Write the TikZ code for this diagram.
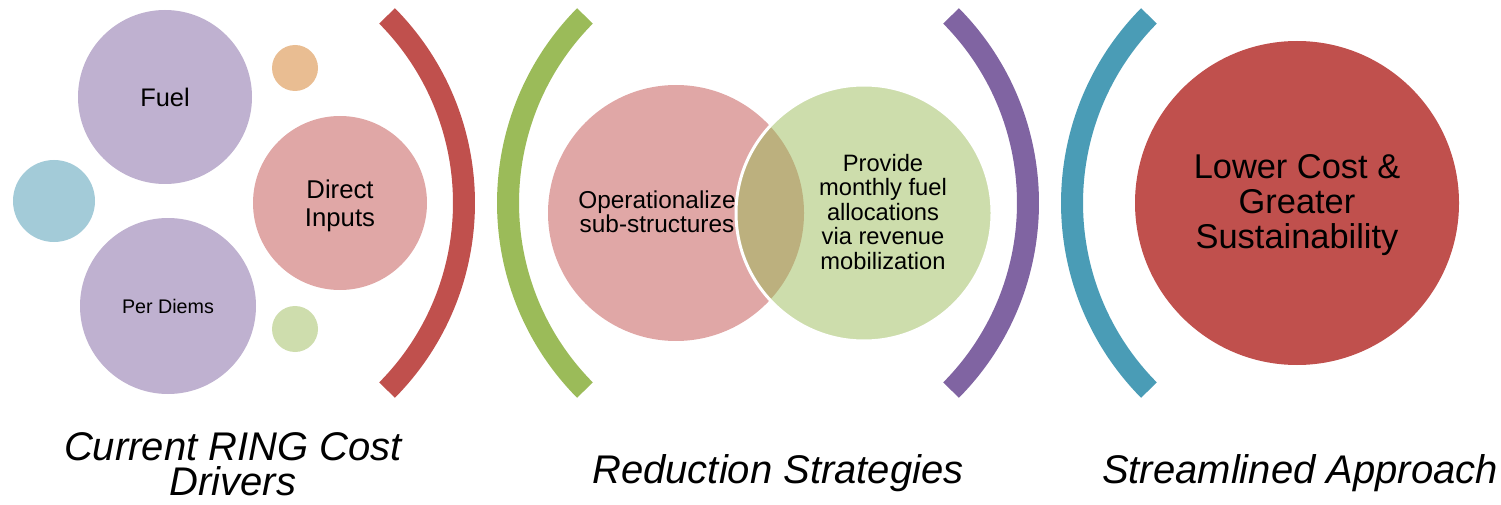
\documentclass[tikz,border=0pt]{standalone}
\usepackage{fontspec}
\setmainfont{Liberation Sans}
\definecolor{lav}{HTML}{BFB1D0}
\definecolor{pinkc}{HTML}{E0A7A6}
\definecolor{bluec}{HTML}{A3CBD8}
\definecolor{orangec}{HTML}{E9BD92}
\definecolor{greenc}{HTML}{CEDDAD}
\definecolor{arcred}{HTML}{C0504D}
\definecolor{arcgreen}{HTML}{9BBB59}
\definecolor{arcpurple}{HTML}{8064A2}
\definecolor{arcblue}{HTML}{4A9CB6}
\definecolor{lensc}{HTML}{BCB07E}
\definecolor{vgreen}{HTML}{CDDDAC}
\tikzset{
  bubble/.style={circle, inner sep=0pt, align=center, text=black},
  bracket/.style={line width=22pt, line cap=butt},
  caption/.style={font=\fontsize{40}{35}\selectfont\itshape, align=center, inner sep=0pt},
  inlabel/.style={align=center, inner sep=0pt, text=black, anchor=base}
}
\begin{document}
\begin{tikzpicture}[x=1pt,y=-1pt]
\useasboundingbox (0,0) rectangle (1501,505);
% --- Current RING cost drivers
\node[bubble, fill=lav, minimum size=174pt, font=\fontsize{25.4}{28}\selectfont] (fuel) at (165,97) {Fuel};
\node[bubble, fill=lav, minimum size=176pt, font=\fontsize{19.7}{22}\selectfont] (perdiems) at (168,306) {Per Diems};
\node[bubble, fill=bluec, minimum size=82pt] (bluedot) at (54,201) {};
\node[bubble, fill=orangec, minimum size=46pt] (orangedot) at (295,68) {};
\node[bubble, fill=greenc, minimum size=46pt] (greendot) at (295,329) {};
\node[bubble, fill=pinkc, minimum size=174pt] (direct) at (340,203) {};
\node[inlabel, font=\fontsize{25.7}{27.4}\selectfont] (directtext) at (340,226) {Direct\\Inputs};
% --- brackets
\coordinate (c1) at (198,203);
\coordinate (c2) at (774,203);
\coordinate (c3) at (762,203);
\coordinate (c4) at (1338,203);
\draw[bracket, arcred] (c1) ++(-44.7:266) arc[start angle=-44.7, end angle=44.7, radius=266];
\draw[bracket, arcgreen] (c2) ++(135.3:266) arc[start angle=135.3, end angle=224.7, radius=266];
\draw[bracket, arcpurple] (c3) ++(-44.7:266) arc[start angle=-44.7, end angle=44.7, radius=266];
\draw[bracket, arcblue] (c4) ++(135.3:266) arc[start angle=135.3, end angle=224.7, radius=266];
% --- Venn
\node[bubble, fill=pinkc, minimum size=256pt] (ops) at (676,213) {};
\node[bubble, fill=vgreen, minimum size=256pt] (prov) at (864,213) {};
\begin{scope}
  \clip (676,213) circle[radius=128];
  \fill[lensc] (864,213) circle[radius=128];
\end{scope}
\node[bubble, draw=white, line width=3pt, minimum size=256pt] (provrim) at (864,213) {};
\node[inlabel, font=\fontsize{24.4}{24}\selectfont] (opstext) at (657,232) {Operationalize\\sub-structures};
\node[inlabel, font=\fontsize{23.7}{24.5}\selectfont] (provtext) at (883,269) {Provide\\monthly fuel\\allocations\\via revenue\\mobilization};
% --- result
\node[bubble, fill=arcred, minimum size=324pt] (result) at (1297,203) {};
\node[inlabel, font=\fontsize{34.4}{35}\selectfont] (resulttext) at (1297,248) {Lower Cost \&\\Greater\\Sustainability};
% --- captions
\node[caption, anchor=base] (cap1) at (233,495) {Current RING Cost\\Drivers};
\node[caption, anchor=base] (cap2) at (778,483) {Reduction Strategies};
\node[caption, anchor=base] (cap3) at (1300,483) {Streamlined Approach};
\end{tikzpicture}
\end{document}
